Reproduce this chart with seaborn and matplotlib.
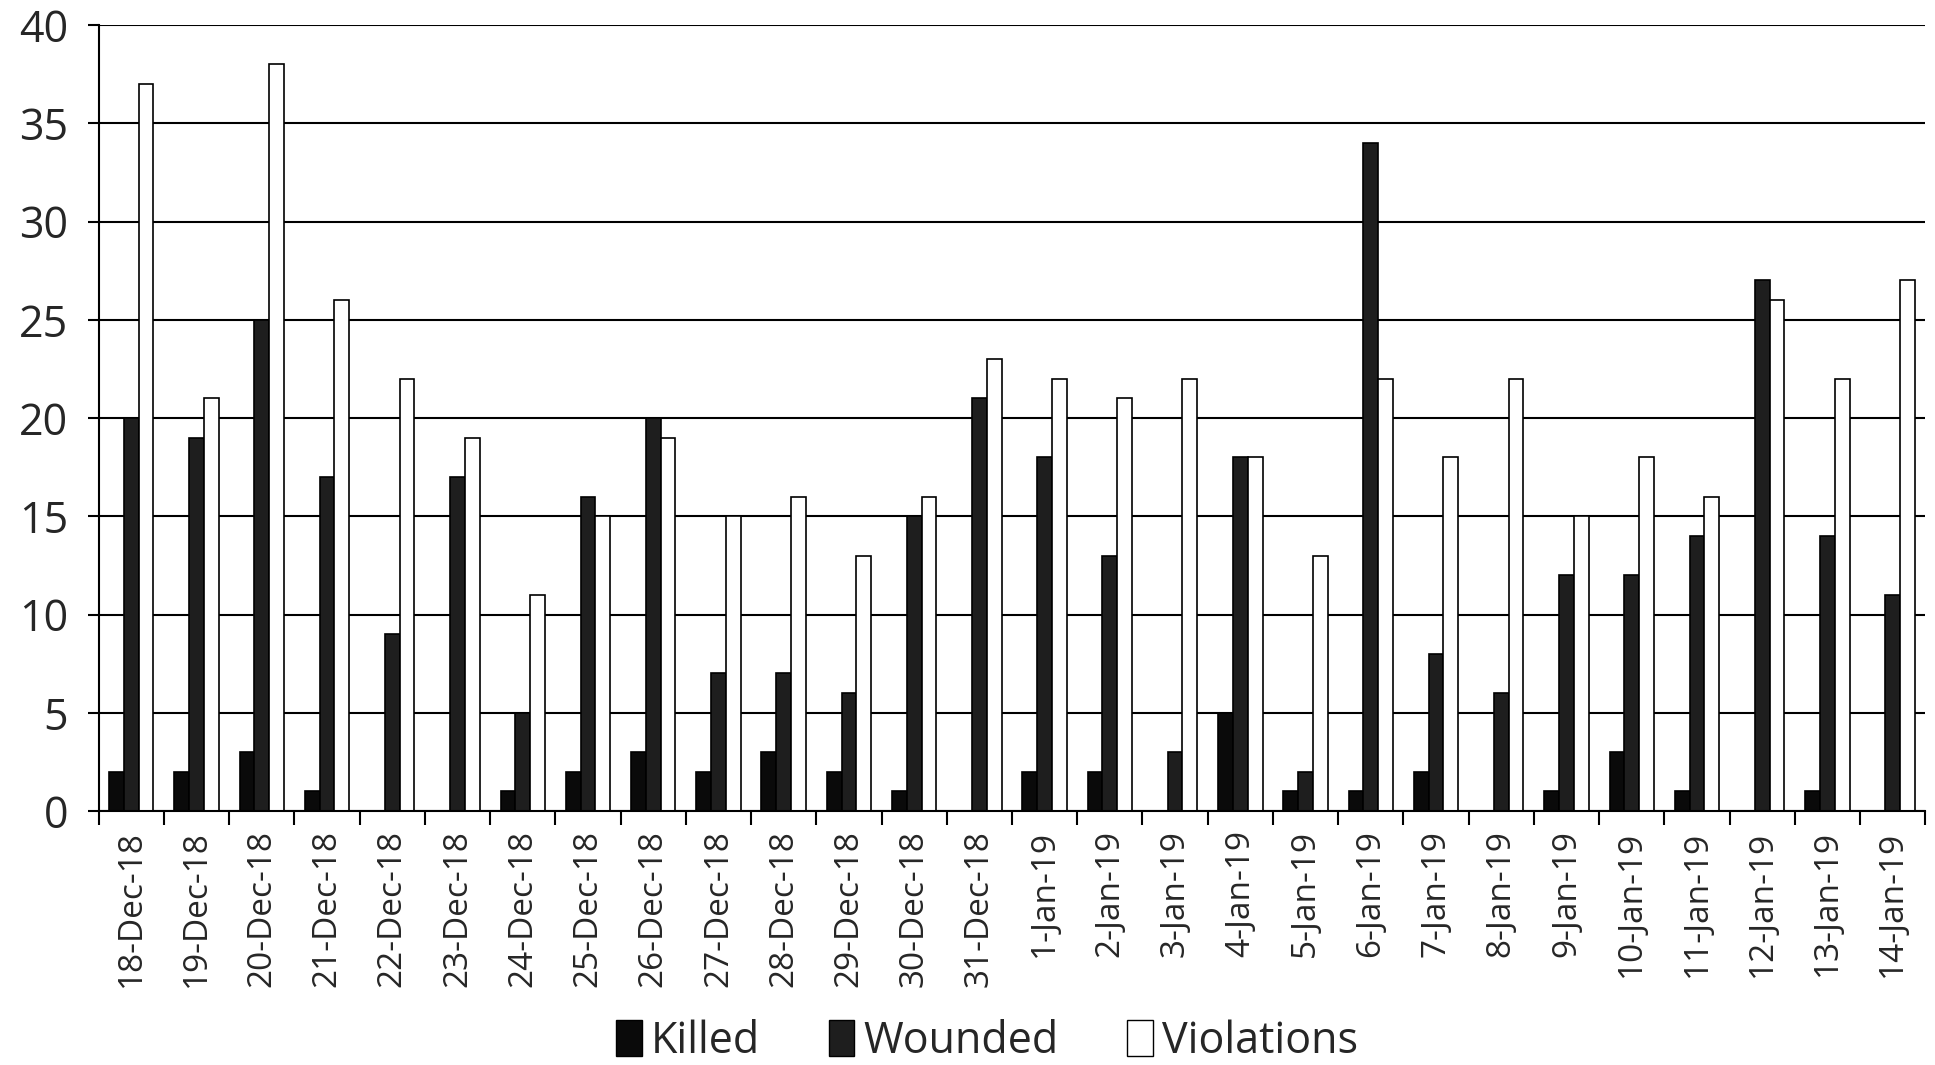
import numpy as np
import pandas as pd
import seaborn as sns
import matplotlib.pyplot as plt
from matplotlib.patches import Patch
from matplotlib.ticker import FixedLocator

# Dados
datas = ["18-Dec-18", "19-Dec-18", "20-Dec-18", "21-Dec-18", "22-Dec-18", "23-Dec-18",
         "24-Dec-18", "25-Dec-18", "26-Dec-18", "27-Dec-18", "28-Dec-18", "29-Dec-18",
         "30-Dec-18", "31-Dec-18", "1-Jan-19", "2-Jan-19", "3-Jan-19", "4-Jan-19",
         "5-Jan-19", "6-Jan-19", "7-Jan-19", "8-Jan-19", "9-Jan-19", "10-Jan-19",
         "11-Jan-19", "12-Jan-19", "13-Jan-19", "14-Jan-19"]
killed = [2, 2, 3, 1, 0, 0, 1, 2, 3, 2, 3, 2, 1, 0, 2, 2, 0, 5, 1, 1, 2, 0, 1, 3, 1, 0, 1, 0]
wounded = [20, 19, 25, 17, 9, 17, 5, 16, 20, 7, 7, 6, 15, 21, 18, 13, 3, 18, 2, 34, 8, 6, 12, 12, 14, 27, 14, 11]
violations = [37, 21, 38, 26, 22, 19, 11, 15, 19, 15, 16, 13, 16, 23, 22, 21, 22, 18, 13, 22, 18, 22, 15, 18, 16, 26, 22, 27]
series = ["Killed", "Wounded", "Violations"]

df = pd.DataFrame({"data": datas, "Killed": killed, "Wounded": wounded, "Violations": violations})
df_long = df.melt(id_vars="data", value_vars=series, var_name="serie", value_name="valor")

cores = {"Killed": "#0a0a0a", "Wounded": "#1e1e1e", "Violations": "#ffffff"}

sns.set_style("white")
plt.rcParams["font.family"] = ["Open Sans", "DejaVu Sans"]

fig = plt.figure(figsize=(19.35, 10.65), dpi=100)
ax = fig.add_axes([0.051, 0.2385, 0.944, 0.738])

sns.barplot(data=df_long, x="data", y="valor", hue="serie", hue_order=series,
            palette=cores, width=0.68, edgecolor="black", linewidth=1.2,
            saturation=1, legend=False, ax=ax)

ax.set_ylim(0, 40)
ax.set_xlim(-0.5, len(datas) - 0.5)
ax.set_yticks(range(0, 41, 5))
ax.yaxis.grid(True, color="black", linewidth=1.5)
ax.set_axisbelow(True)
ax.set_xlabel("")
ax.set_ylabel("")

for s in ["top", "right"]:
    ax.spines[s].set_visible(False)
for s in ["left", "bottom"]:
    ax.spines[s].set_color("black")
    ax.spines[s].set_linewidth(1.5)

ax.tick_params(axis="y", labelsize=31, length=8, width=1.5, color="black", left=True, pad=14)
ax.tick_params(axis="x", which="major", labelsize=24, length=0, rotation=90, pad=14)
ax.xaxis.set_minor_locator(FixedLocator(np.arange(-0.5, len(datas), 1)))
ax.tick_params(axis="x", which="minor", length=10, width=1.5, color="black", bottom=True)

handles = [Patch(facecolor=cores[s], edgecolor="black", label=s) for s in series]
fig.legend(handles=handles, loc="lower center", ncol=3, frameon=False,
           fontsize=31, bbox_to_anchor=(0.51, -0.035), handlelength=0.6,
           handleheight=0.9, handletextpad=0.2, columnspacing=1.6)

plt.savefig("out.png", dpi=100)
